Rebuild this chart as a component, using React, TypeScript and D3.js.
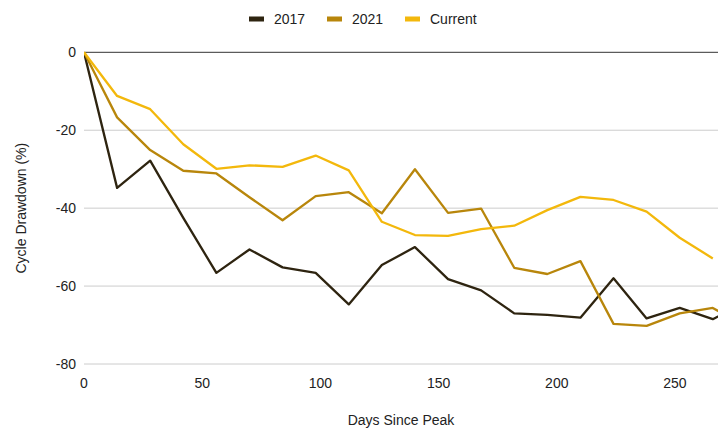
import { useEffect, useRef } from 'react';
import * as d3 from 'd3';

// days since peak (every two weeks); 280 lies past the right edge and gets clipped
const days = [0, 14, 28, 42, 56, 70, 84, 98, 112, 126, 140, 154, 168, 182, 196, 210, 224, 238, 252, 266, 280];

const cycle2017 = [0, -34.8, -27.8, -42.5, -56.6, -50.6, -55.2, -56.6, -64.7, -54.6, -50.0, -58.2, -61.1, -67.0, -67.4, -68.1, -58.0, -68.3, -65.6, -68.5, -64.0];
const cycle2021 = [0, -16.7, -25.1, -30.4, -31.1, -37.2, -43.1, -36.9, -35.9, -41.3, -30.0, -41.2, -40.1, -55.3, -56.9, -53.6, -69.7, -70.2, -67.0, -65.6, -70.5];
const cycleCurrent = [0, -11.2, -14.6, -23.6, -29.9, -29.0, -29.4, -26.5, -30.3, -43.5, -46.9, -47.1, -45.4, -44.5, -40.5, -37.1, -37.9, -40.9, -47.6, -52.9];

const seriesNames = ['2017', '2021', 'Current'];
const seriesColors = ['#2e2410', '#b8860b', '#f3b80c'];
const xTicks = [0, 50, 100, 150, 200, 250];
const yTicks = [0, -20, -40, -60, -80];

const App = () => {
  const svgRef = useRef<SVGSVGElement>(null);

  useEffect(() => {
    const width = 728;
    const height = 434;
    const margin = { top: 52.3, right: 10, bottom: 70, left: 84 };
    const font = 'Arial, "Liberation Sans", sans-serif';

    if (!svgRef.current) return;
    const svg = d3.select(svgRef.current);
    svg.selectAll('*').remove();
    svg.attr('width', width).attr('height', height);

    const x = d3.scaleLinear().domain([0, 268.2]).range([margin.left, width - margin.right]);
    const y = d3.scaleLinear().domain([-80, 0]).range([height - margin.bottom, margin.top]);

    svg.append('defs').append('clipPath').attr('id', 'plot-clip')
      .append('rect')
      .attr('x', margin.left).attr('y', 0)
      .attr('width', width - margin.right - margin.left).attr('height', height);

    // gridlines
    svg.append('g')
      .selectAll('line')
      .data(yTicks)
      .enter()
      .append('line')
      .attr('x1', margin.left)
      .attr('x2', width - margin.right)
      .attr('y1', d => y(d))
      .attr('y2', d => y(d))
      .attr('stroke', d => (d === 0 ? '#333333' : '#cccccc'))
      .attr('stroke-width', 1);

    // y tick labels
    svg.append('g')
      .selectAll('text')
      .data(yTicks)
      .enter()
      .append('text')
      .attr('x', margin.left - 8)
      .attr('y', d => y(d))
      .attr('dy', '0.35em')
      .attr('text-anchor', 'end')
      .attr('font-family', font)
      .attr('font-size', 14)
      .attr('fill', '#222')
      .text(d => d);

    // x tick labels
    svg.append('g')
      .selectAll('text')
      .data(xTicks)
      .enter()
      .append('text')
      .attr('x', d => x(d))
      .attr('y', y(-80) + 19)
      .attr('dy', '0.35em')
      .attr('text-anchor', 'middle')
      .attr('font-family', font)
      .attr('font-size', 14)
      .attr('fill', '#222')
      .text(d => d);

    // axis titles
    svg.append('text')
      .attr('x', (margin.left + width - margin.right) / 2)
      .attr('y', 420)
      .attr('dy', '0.35em')
      .attr('text-anchor', 'middle')
      .attr('font-family', font)
      .attr('font-size', 14)
      .attr('fill', '#222')
      .text('Days Since Peak');

    svg.append('text')
      .attr('transform', `translate(21,${(y(0) + y(-80)) / 2}) rotate(-90)`)
      .attr('dy', '0.35em')
      .attr('text-anchor', 'middle')
      .attr('font-family', font)
      .attr('font-size', 14)
      .attr('fill', '#222')
      .text('Cycle Drawdown (%)');

    // lines
    const allSeries = [cycle2017, cycle2021, cycleCurrent];
    const line = d3.line<[number, number]>()
      .x(d => x(d[0]))
      .y(d => y(d[1]));

    const linesG = svg.append('g').attr('clip-path', 'url(#plot-clip)');
    allSeries.forEach((values, i) => {
      const pts = values.map((v, j) => [days[j], v] as [number, number]);
      linesG.append('path')
        .datum(pts)
        .attr('fill', 'none')
        .attr('stroke', seriesColors[i])
        .attr('stroke-width', 2.3)
        .attr('stroke-linejoin', 'round')
        .attr('d', line);
    });

    // legend
    const legendX = [249, 327, 405];
    const legend = svg.append('g');
    seriesNames.forEach((name, i) => {
      legend.append('rect')
        .attr('x', legendX[i])
        .attr('y', 16.5)
        .attr('width', 15)
        .attr('height', 5)
        .attr('fill', seriesColors[i]);
      legend.append('text')
        .attr('x', legendX[i] + 25)
        .attr('y', 19)
        .attr('dy', '0.35em')
        .attr('font-family', font)
        .attr('font-size', 14)
        .attr('fill', '#222')
        .text(name);
    });
  }, []);

  return (
    <svg
      ref={svgRef}
      style={{ position: 'absolute', left: 0, top: 0, display: 'block', background: '#fff' }}
    ></svg>
  );
};

export default App;
